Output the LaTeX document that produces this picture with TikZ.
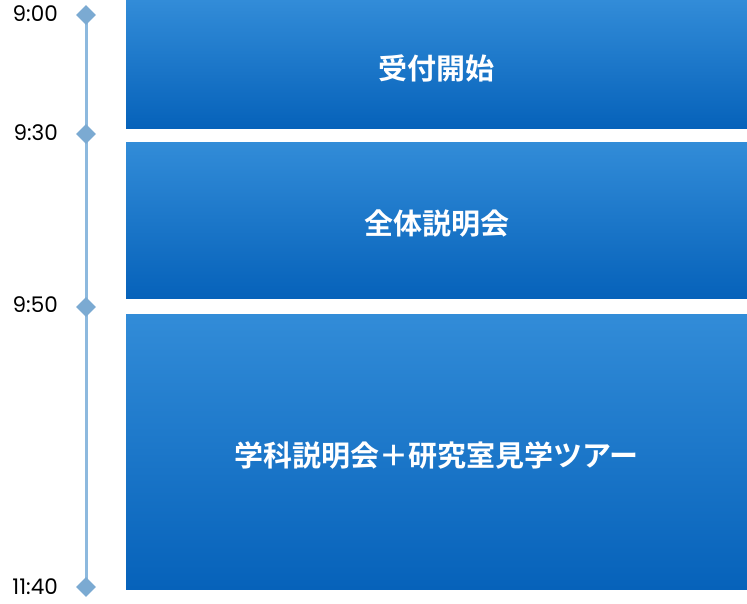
\documentclass[tikz,border=0pt]{standalone}
\usepackage{fontspec}
\setmainfont{Poppins}
\newfontfamily\cjkfont{Noto Sans CJK JP}[BoldFont={* Bold}]
\usetikzlibrary{shapes.geometric}
\definecolor{boxtop}{RGB}{50,140,216}
\definecolor{boxbot}{RGB}{6,98,186}
\definecolor{linecol}{RGB}{141,185,222}
\definecolor{diacol}{RGB}{123,170,210}
\tikzset{
  x=1pt, y=-1pt,
  slot/.style={rectangle, inner sep=0pt, outer sep=0pt, top color=boxtop, bottom color=boxbot, draw=none, anchor=north west},
  slottext/.style={text=white, font=\cjkfont\bfseries\fontsize{29}{32}\selectfont, inner sep=0pt, yshift=-4pt},
  tick/.style={diamond, fill=diacol, inner sep=0pt, minimum width=20pt, minimum height=20pt},
  timelbl/.style={anchor=east, inner sep=0pt, font=\fontsize{21.5}{24}\selectfont, text=black},
  axis/.style={draw=linecol, line width=3pt}
}
\begin{document}
\begin{tikzpicture}
\useasboundingbox (0,0) rectangle (747,603);
\node[slot, minimum width=621pt, minimum height=128pt, label={[slottext]center:受付開始}] (b1) at (126,0) {};
\node[slot, minimum width=621pt, minimum height=156pt, label={[slottext]center:全体説明会}] (b2) at (126,142) {};
\node[slot, minimum width=621pt, minimum height=275pt, label={[slottext]center:学科説明会＋研究室見学ツアー}] (b3) at (126,314) {};
\coordinate (p1) at (86,15);
\coordinate (p2) at (86,134);
\coordinate (p3) at (86,307);
\coordinate (p4) at (86,587);
\draw[axis] (p1) -- (p4);
\node[tick] (d1) at (p1) {};
\node[tick] (d2) at (p2) {};
\node[tick] (d3) at (p3) {};
\node[tick] (d4) at (p4) {};
\node[timelbl] (t1) at (58,14) {9:00};
\node[timelbl] (t2) at (58,133) {9:30};
\node[timelbl] (t3) at (58,305) {9:50};
\node[timelbl] (t4) at (58,587) {11:40};
\end{tikzpicture}
\end{document}
